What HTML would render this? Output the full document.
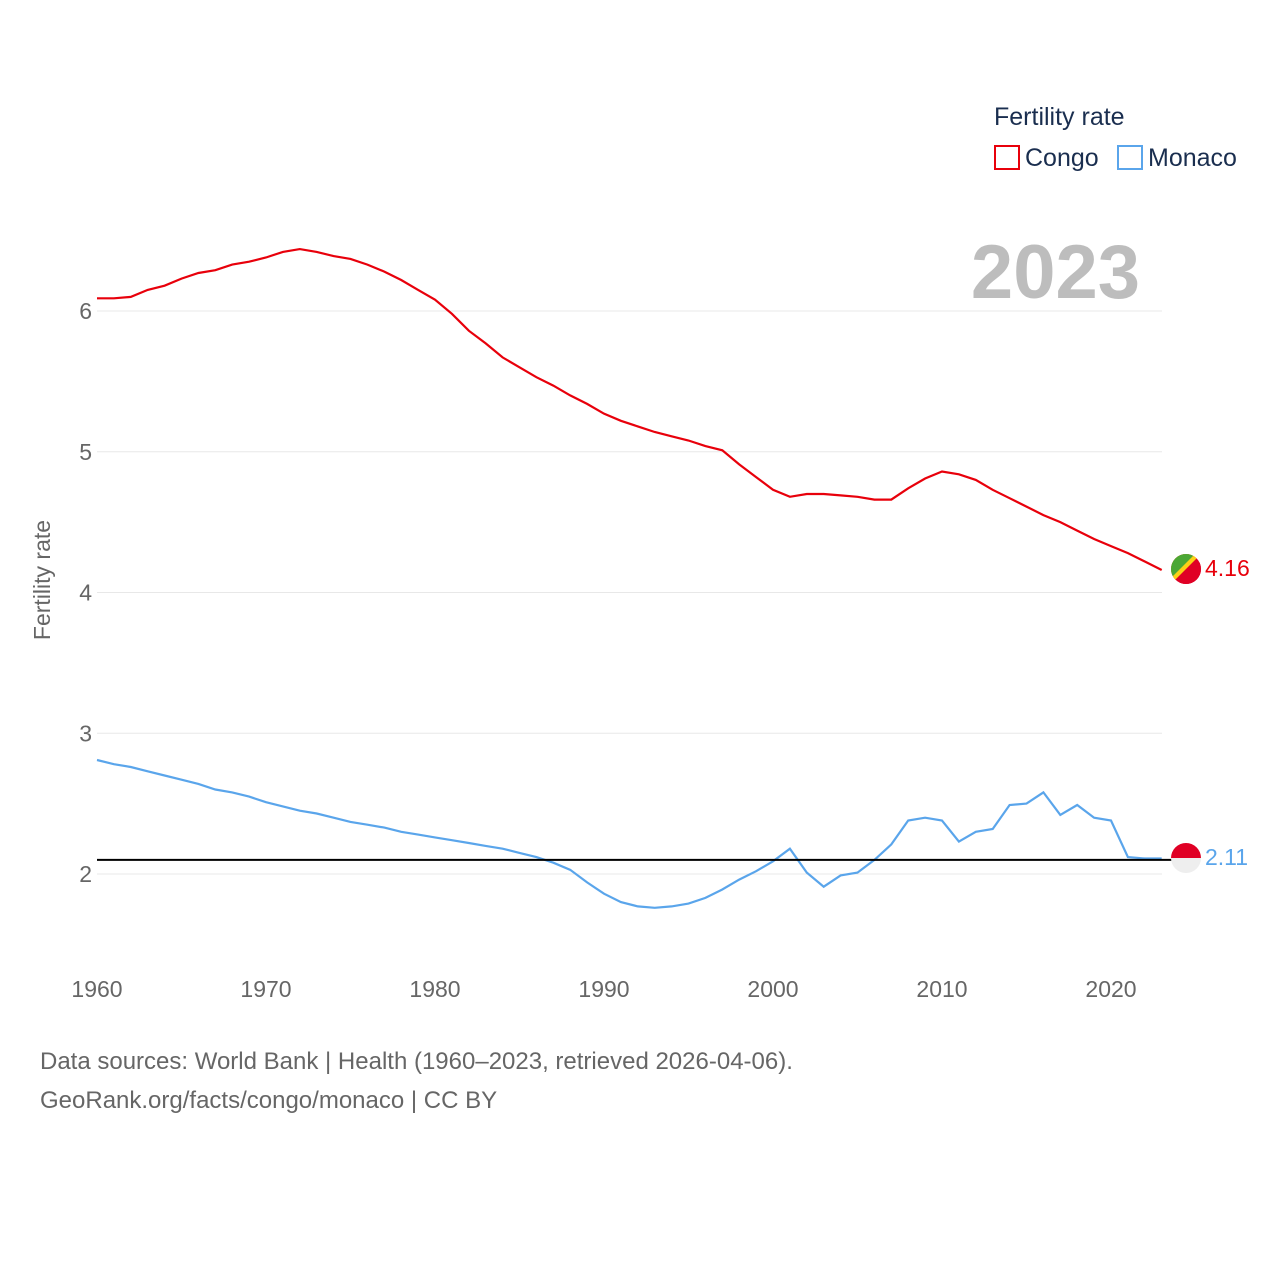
<!DOCTYPE html>
<html><head><meta charset="utf-8"><style>
body{margin:0;background:#fff;font-family:"Liberation Sans",sans-serif;}
svg text{font-family:"Liberation Sans",sans-serif;}
</style></head><body>
<svg id="chart" width="1280" height="1280" xmlns="http://www.w3.org/2000/svg">
<defs>
<clipPath id="fc1"><circle cx="1186" cy="569" r="15"/></clipPath>
<clipPath id="fc2"><circle cx="1186" cy="858" r="15"/></clipPath>
</defs>
<g id="grid"></g>
<g id="lines"></g>
<text x="1140" y="298" text-anchor="end" font-size="76" font-weight="bold" fill="#bdbdbd">2023</text>
<text transform="translate(50,580) rotate(-90)" text-anchor="middle" font-size="23" fill="#666">Fertility rate</text>
<g>
<text x="994" y="125" font-size="25" fill="#1a2e4f">Fertility rate</text>
<g><rect x="995" y="146" width="24" height="23" fill="none" stroke="#e8000b" stroke-width="2"/><text x="1025" y="166" font-size="25" fill="#1a2e4f">Congo</text></g>
<g><rect x="1118" y="146" width="24" height="23" fill="none" stroke="#5aa5eb" stroke-width="2"/><text x="1148" y="166" font-size="25" fill="#1a2e4f">Monaco</text></g>
</g>
<g clip-path="url(#fc1)">
<rect x="1170" y="553" width="32" height="32" fill="#e00025"/>
<polygon points="1170,553 1202,553 1170,585" fill="#fcd116"/>
<polygon points="1170,553 1196,553 1170,579" fill="#009543" opacity="0.7"/>
<polygon points="1170,591 1208,553 1212,553 1212,600 1170,600" fill="#e00025"/>
</g>
<g clip-path="url(#fc2)">
<rect x="1170" y="842" width="32" height="16" fill="#e00025"/>
<rect x="1170" y="858" width="32" height="16" fill="#eee"/>
</g>
<text x="1205" y="576" font-size="23" fill="#e8000b">4.16</text>
<text x="1205" y="865" font-size="23" fill="#5aa5eb">2.11</text>
<text x="40" y="1069" font-size="24" fill="#666">Data sources: World Bank | Health (1960–2023, retrieved 2026-04-06).</text>
<text x="40" y="1108" font-size="24" fill="#666">GeoRank.org/facts/congo/monaco | CC BY</text>
</svg>
<script>
const years=[];for(let y=1960;y<=2023;y++)years.push(y);
const congo=[6.09,6.09,6.10,6.15,6.18,6.23,6.27,6.29,6.33,6.35,6.38,6.42,6.44,6.42,6.39,6.37,6.33,6.28,6.22,6.15,6.08,5.98,5.86,5.77,5.67,5.60,5.53,5.47,5.40,5.34,5.27,5.22,5.18,5.14,5.11,5.08,5.04,5.01,4.91,4.82,4.73,4.68,4.70,4.70,4.69,4.68,4.66,4.66,4.74,4.81,4.86,4.84,4.80,4.73,4.67,4.61,4.55,4.50,4.44,4.38,4.33,4.28,4.22,4.16];
const monaco=[2.81,2.78,2.76,2.73,2.70,2.67,2.64,2.60,2.58,2.55,2.51,2.48,2.45,2.43,2.40,2.37,2.35,2.33,2.30,2.28,2.26,2.24,2.22,2.20,2.18,2.15,2.12,2.08,2.03,1.94,1.86,1.80,1.77,1.76,1.77,1.79,1.83,1.89,1.96,2.02,2.09,2.18,2.01,1.91,1.99,2.01,2.10,2.21,2.38,2.40,2.38,2.23,2.30,2.32,2.49,2.50,2.58,2.42,2.49,2.40,2.38,2.12,2.11,2.11];
const yTicks=[2,3,4,5,6];
const xTicks=[1960,1970,1980,1990,2000,2010,2020];
const replacement=2.1;
const NS='http://www.w3.org/2000/svg';
const X=y=>97+(y-1960)*(1014/60);
const Y=v=>874-(v-2)*140.75;
const grid=document.getElementById('grid'),lines=document.getElementById('lines');
function mk(t,a,p){const e=document.createElementNS(NS,t);for(const k in a)e.setAttribute(k,a[k]);p.appendChild(e);return e;}
yTicks.forEach(v=>{
 const l=mk('line',{x1:97,x2:1162,y1:Y(v),y2:Y(v),stroke:'#e8e8e8','stroke-width':1},grid);
 
 
 const t=mk('text',{x:92,y:Y(v)+8,'text-anchor':'end','font-size':23,fill:'#666'},grid);t.textContent=v;
 
 
});
xTicks.forEach(v=>{
 const t=mk('text',{x:X(v),y:997,'text-anchor':'middle','font-size':23,fill:'#666'},grid);t.textContent=v;
 
 
});
function path(vals){return vals.map((v,i)=>(i?'L':'M')+X(years[i]).toFixed(1)+','+Y(v).toFixed(1)).join('');}
const pc=mk('path',{d:path(congo),fill:'none',stroke:'#e8000b','stroke-width':2.2},lines);


const pm=mk('path',{d:path(monaco),fill:'none',stroke:'#5aa5eb','stroke-width':2.2},lines);


const rl=mk('line',{x1:97,x2:1172,y1:Y(replacement),y2:Y(replacement),stroke:'#000','stroke-width':2},lines);


</script>
</body></html>
